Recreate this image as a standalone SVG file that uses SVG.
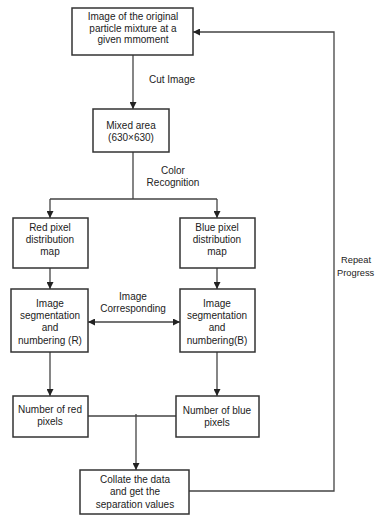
<svg xmlns="http://www.w3.org/2000/svg" width="377" height="515" viewBox="0 0 377 515">
<defs>
<marker id="ah" viewBox="0 0 10 10" refX="10" refY="5" markerWidth="7" markerHeight="7" orient="auto-start-reverse" markerUnits="userSpaceOnUse"><path d="M0,0 L10,5 L0,10 Z" fill="#222"/></marker>
<style>
.box{fill:#fff;stroke:#333;stroke-width:1.5}
.ln{fill:none;stroke:#444;stroke-width:1.3}
text{font-family:"Liberation Sans",Arial,sans-serif;font-size:10px;fill:#222;text-anchor:middle}
.side{font-size:9.3px;text-anchor:start}
</style>
</defs>
<rect width="377" height="515" fill="#fff"/>
<g id="connectors">
<path class="ln" d="M133,55 V109" marker-end="url(#ah)"/>
<path class="ln" d="M133,152 V199 M50,199 H217"/>
<path class="ln" d="M50,199 V218" marker-end="url(#ah)"/>
<path class="ln" d="M217,199 V218" marker-end="url(#ah)"/>
<path class="ln" d="M50,268 V289" marker-end="url(#ah)"/>
<path class="ln" d="M217,268 V289" marker-end="url(#ah)"/>
<path class="ln" d="M88,322 H180" marker-start="url(#ah)" marker-end="url(#ah)"/>
<path class="ln" d="M50,352 V396" marker-end="url(#ah)"/>
<path class="ln" d="M217,352 V396" marker-end="url(#ah)"/>
<path class="ln" d="M88,416 H176 M136,414 V470" marker-end="url(#ah)"/>
<path class="ln" d="M189,491 H334 V32 H193" marker-end="url(#ah)"/>
<text x="172" y="83">Cut Image</text>
<text x="173" y="174">Color</text>
<text x="173" y="186">Recognition</text>
<text x="133" y="300">Image</text>
<text x="133" y="312">Corresponding</text>
<text class="side" x="341" y="263">Repeat</text>
<text class="side" x="337" y="276">Progress</text>
</g>
<g id="n1"><rect class="box" x="72" y="8" width="121" height="47"/>
<text x="133" y="20">Image of the original</text><text x="133" y="31.5">particle mixture at a</text><text x="133" y="43">given mmoment</text></g>
<g id="n2"><rect class="box" x="93" y="109" width="76" height="43"/>
<text x="131" y="129">Mixed area</text><text x="131" y="141">(630×630)</text></g>
<g id="n3"><rect class="box" x="13" y="218" width="75" height="50"/>
<text x="50" y="231">Red pixel</text><text x="50" y="243">distribution</text><text x="50" y="255">map</text></g>
<g id="n4"><rect class="box" x="180" y="218" width="75" height="50"/>
<text x="217" y="231">Blue pixel</text><text x="217" y="243">distribution</text><text x="217" y="255">map</text></g>
<g id="n5"><rect class="box" x="11" y="289" width="77" height="63"/>
<text x="50" y="307">Image</text><text x="50" y="319">segmentation</text><text x="50" y="331">and</text><text x="50" y="344">numbering (R)</text></g>
<g id="n6"><rect class="box" x="180" y="289" width="75" height="63"/>
<text x="217" y="307">Image</text><text x="217" y="319">segmentation</text><text x="217" y="331">and</text><text x="217" y="344">numbering(B)</text></g>
<g id="n7"><rect class="box" x="13" y="396" width="75" height="41"/>
<text x="50" y="413">Number of red</text><text x="50" y="425">pixels</text></g>
<g id="n8"><rect class="box" x="176" y="396" width="83" height="41"/>
<text x="217" y="414">Number of blue</text><text x="217" y="426">pixels</text></g>
<g id="n9"><rect class="box" x="80" y="470" width="109" height="44"/>
<text x="135" y="483">Collate the data</text><text x="135" y="495">and get the</text><text x="135" y="508">separation values</text></g>
</svg>
